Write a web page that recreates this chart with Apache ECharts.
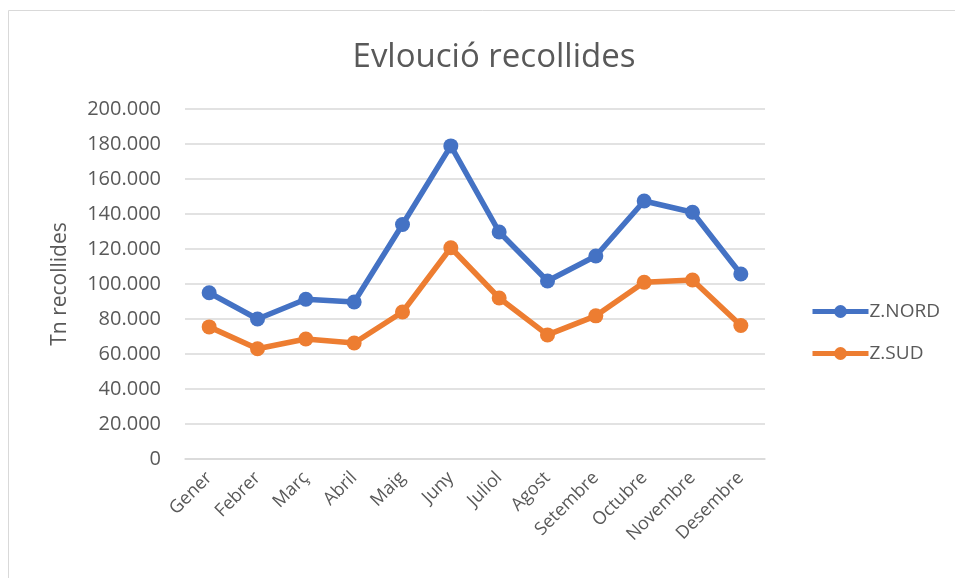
<!DOCTYPE html>
<html><head><meta charset="utf-8">
<script src="https://cdn.jsdelivr.net/npm/echarts@6/dist/echarts.min.js"></script>
<style>html,body{margin:0;padding:0;background:#fff}#c{width:955px;height:578px}</style>
</head><body><div id="c"></div>
<script>
const categories = ['Gener','Febrer','Març','Abril','Maig','Juny','Juliol','Agost','Setembre','Octubre','Novembre','Desembre'];
const zNord = [95000, 80000, 91300, 89700, 134000, 178900, 129700, 101700, 116000, 147400, 141000, 105700];
const zSud = [75500, 63000, 68600, 66300, 84000, 120700, 92000, 70900, 81800, 101000, 102300, 76300];
const seriesNames = ['Z.NORD', 'Z.SUD'];
const colors = ['#4472C4', '#ED7D31'];
const FONT = '"Open Sans", "Noto Sans", sans-serif';
function fmt(v){ return String(v).replace(/\B(?=(\d{3})+(?!\d))/g, '.'); }
const chart = echarts.init(document.getElementById('c'));
chart.setOption({
  animation: false,
  color: colors,
  graphic: [{type:'rect', shape:{x:8.5,y:10.5,width:1000,height:700}, style:{fill:'none', stroke:'#d9d9d9', lineWidth:1}, silent:true}],
  title: {text:'Evloució recollides', left: 489, top: 36, textAlign:'center',
    textStyle:{fontFamily:FONT, fontSize:33, fontWeight:'normal', color:'#595959'}},
  legend: {orient:'vertical', left: 805, top: 297, itemGap: 23, itemWidth: 56, itemHeight: 16,
    lineStyle:{width:5}, itemStyle:{borderWidth:0},
    textStyle:{fontFamily:FONT, fontSize:19, color:'#595959', padding:[0,0,0,-4]}, data: seriesNames},
  grid: {left:185, right:190, top:109, bottom:119},
  xAxis: {type:'category', data: categories, boundaryGap:true,
    axisLine:{show:true, lineStyle:{color:'#d9d9d9', width:1.5}}, axisTick:{show:false},
    axisLabel:{rotate:45, fontFamily:FONT, fontSize:18, color:'#595959', margin:16, interval:0}},
  yAxis: {type:'value', min:0, max:200000, interval:20000,
    name:'Tn recollides', nameLocation:'middle', nameGap:114, nameRotate:90,
    nameTextStyle:{fontFamily:FONT, fontSize:21, color:'#595959'},
    axisLine:{show:false}, axisTick:{show:false},
    splitLine:{lineStyle:{color:'#d9d9d9', width:1.5}},
    axisLabel:{formatter: fmt, fontFamily:FONT, fontSize:20, color:'#595959', margin:24}},
  series: [
    {name: seriesNames[0], type:'line', data: zNord, symbol:'circle', symbolSize:15, lineStyle:{width:5.5}},
    {name: seriesNames[1], type:'line', data: zSud, symbol:'circle', symbolSize:15, lineStyle:{width:5.5}}
  ]
});
</script></body></html>
